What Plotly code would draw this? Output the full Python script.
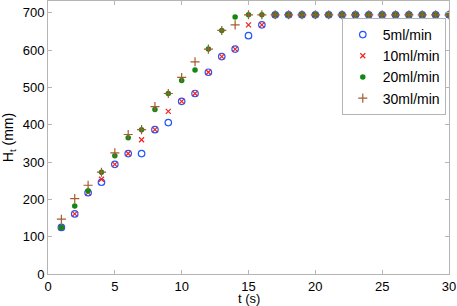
import plotly.graph_objects as go

t = list(range(1, 31))
h_5 = [125, 161, 218, 246, 294, 323, 323, 387, 406, 463, 484, 541, 583, 603, 639, 668] + [695] * 14
h_10 = [125, 161, 218, 254, 294, 323, 360, 387, 436, 463, 484, 541, 583, 603, 668, 668] + [695] * 14
h_20 = [125, 182, 223, 273, 317, 365, 387, 441, 484, 519, 547, 603, 653, 689, 695, 695] + [695] * 14
h_30 = [147, 202, 238, 273, 325, 374, 387, 449, 484, 527, 569, 603, 653, 668, 695, 695] + [695] * 14

labels = ["5ml/min", "10ml/min", "20ml/min", "30ml/min"]
x_ticks = [0, 5, 10, 15, 20, 25, 30]
y_ticks = [0, 100, 200, 300, 400, 500, 600, 700]

FONT = "Liberation Sans, Arial, sans-serif"

fig = go.Figure()
fig.add_trace(go.Scatter(x=t, y=h_5, mode="markers", name=labels[0],
                         marker=dict(symbol="circle-open", size=6.5, color="#2255ff", line=dict(width=1.2))))
fig.add_trace(go.Scatter(x=t, y=h_10, mode="markers", name=labels[1],
                         marker=dict(symbol="x-thin-open", size=5, color="#ee2222", line=dict(width=1.2))))
fig.add_trace(go.Scatter(x=t, y=h_20, mode="markers", name=labels[2],
                         marker=dict(symbol="circle", size=5.5, color="#118811")))
fig.add_trace(go.Scatter(x=t, y=h_30, mode="markers", name=labels[3],
                         marker=dict(symbol="cross-thin-open", size=6.5, color="#a85a30", line=dict(width=1.2))))

axis_common = dict(showgrid=False, zeroline=False, showline=True, linecolor="#b5b5b5", linewidth=1,
                   mirror="ticks", ticks="inside", ticklen=4, tickcolor="#b5b5b5", automargin=False,
                   tickfont=dict(family=FONT, size=13, color="black"))

fig.update_layout(
    width=457, height=306,
    margin=dict(l=48, r=8, t=1, b=32, autoexpand=False),
    paper_bgcolor="white", plot_bgcolor="white",
    xaxis=dict(range=[0, 30], tickvals=x_ticks, **axis_common),
    yaxis=dict(range=[0, 732], tickvals=y_ticks, **axis_common),
    legend=dict(x=0.992, y=0.938, xanchor="right", yanchor="top",
                bgcolor="white", bordercolor="#b5b5b5", borderwidth=1,
                font=dict(family=FONT, size=14, color="black"),
                itemwidth=30, tracegroupgap=0),
    showlegend=True,
    annotations=[
        dict(text="t (s)", x=0.5, y=-0.09, xref="paper", yref="paper", xanchor="center", yanchor="middle",
             showarrow=False, font=dict(family=FONT, size=13, color="black")),
        dict(text="H<sub>t</sub> (mm)", x=-0.098, y=0.5, xref="paper", yref="paper", xanchor="center", yanchor="middle",
             textangle=-90, showarrow=False, font=dict(family=FONT, size=14, color="black")),
    ],
)

fig.write_html("out.html", config={"displayModeBar": False},
               post_script="document.body.style.margin='0px';")
